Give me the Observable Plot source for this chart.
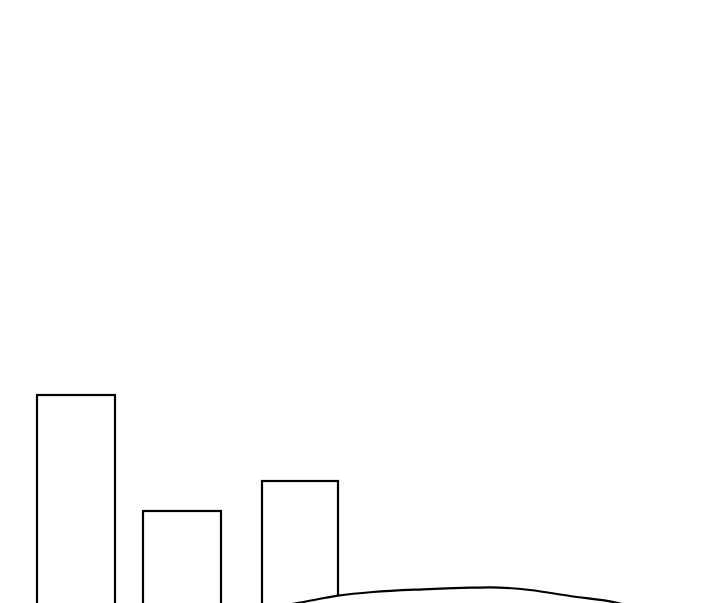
<!DOCTYPE html>
<html>
<head>
<meta charset="utf-8">
<script src="https://cdn.jsdelivr.net/npm/d3@7"></script>
<script src="https://cdn.jsdelivr.net/npm/@observablehq/plot@0.6"></script>
<style>
  html, body { margin: 0; padding: 0; background: #fff; overflow: hidden; }
</style>
</head>
<body>
<div id="chart"></div>
<script>
// Bars (left edge, right edge, height)
const barStart  = [37, 143, 262];
const barEnd    = [115, 221, 338];
const barHeight = [305, 189, 219];

// Hill outline (x, height)
const hillX = [270, 300, 338, 373, 423, 470, 490, 530, 570, 617, 650];
const hillY = [92, 97.3, 104.3, 108, 110.7, 112.3, 112.7, 110, 104, 97.3, 88];

const bars = barStart.map((s, i) => ({x1: s, x2: barEnd[i], h: barHeight[i]}));
const hill = hillX.map((x, i) => ({x, y: hillY[i]}));

const chart = Plot.plot({
  width: 720,
  height: 700,
  margin: 0,
  x: {domain: [0, 720], range: [0, 720], axis: null},
  y: {domain: [0, 700], range: [700, 0], axis: null},
  marks: [
    Plot.rect(bars, {x1: "x1", x2: "x2", y1: 0, y2: "h", fill: "white", stroke: "black", strokeWidth: 2.2}),
    Plot.areaY(hill, {x: "x", y1: -20, y2: "y", curve: "monotone-x", fill: "white", stroke: "black", strokeWidth: 2.2})
  ]
});
document.getElementById("chart").appendChild(chart);
</script>
</body>
</html>
